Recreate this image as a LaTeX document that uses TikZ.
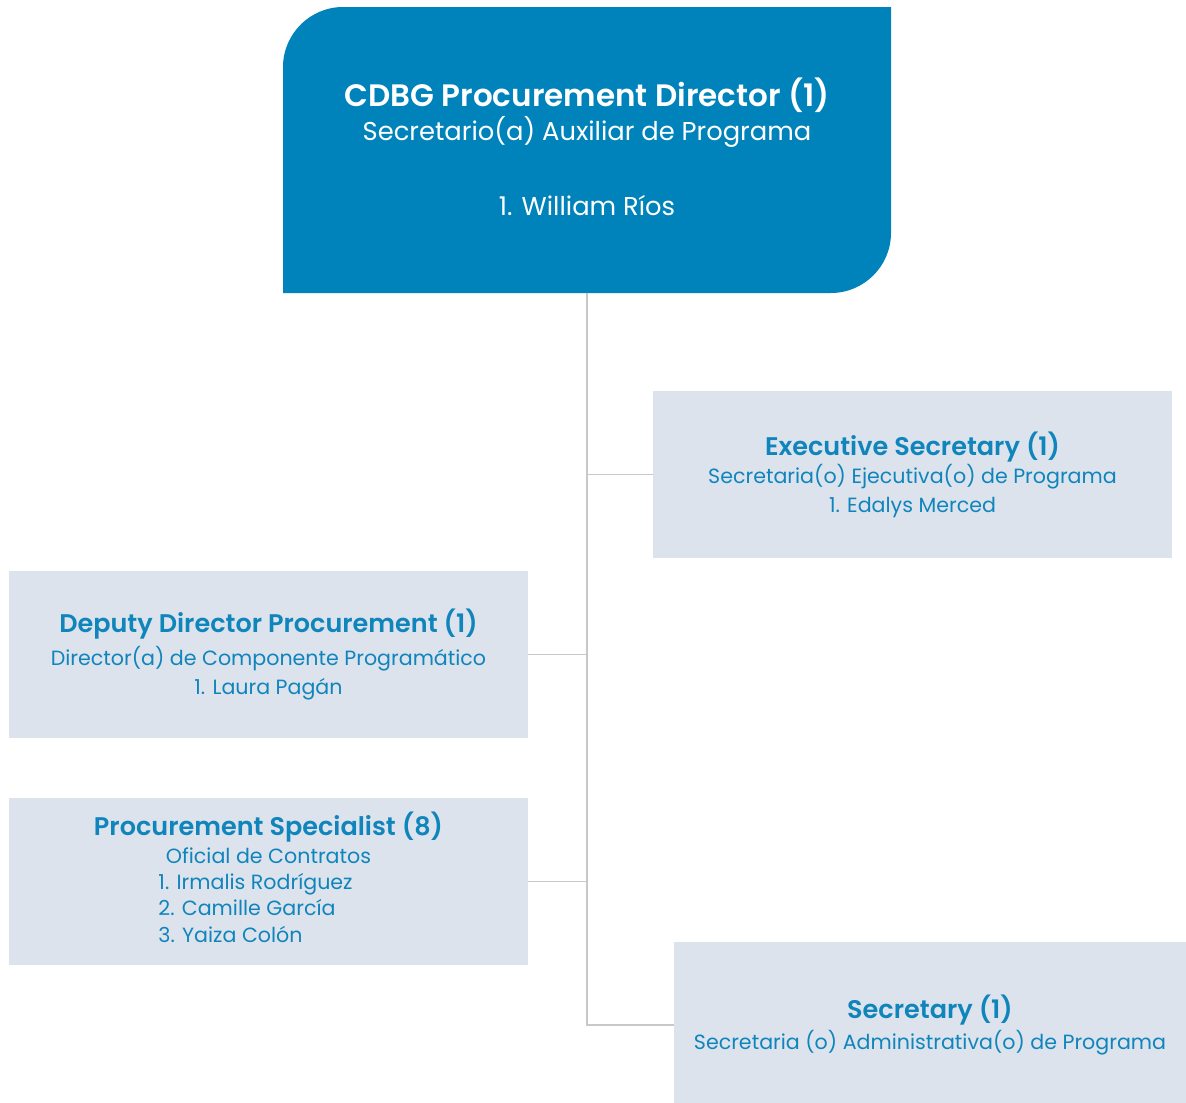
\documentclass[tikz,border=0pt]{standalone}
\usepackage{fontspec}
\setmainfont{Poppins}[BoldFont={Poppins SemiBold}]
\definecolor{topblue}{RGB}{0,131,186}
\definecolor{boxgray}{RGB}{220,227,237}
\definecolor{tblue}{RGB}{16,133,188}
\definecolor{linegray}{RGB}{200,200,200}
\begin{document}
\begin{tikzpicture}[x=1pt,y=-1pt,
  lbox/.style={fill=boxgray,minimum width=519pt,minimum height=167pt,inner sep=0pt,text=tblue,align=center},
  conn/.style={draw=linegray,line width=1.5pt}]
\useasboundingbox (0,0) rectangle (1186,1103);
% top director box
\fill[topblue] (283,293) -- (283,67) .. controls (283,34) and (310,7) .. (343,7) -- (891,7) -- (891,233) .. controls (891,266) and (864,293) .. (831,293) -- cycle;
\node[minimum width=608pt,minimum height=286pt,inner sep=0pt,text=white,align=center,
  font=\fontsize{25.8}{34}\selectfont] (dir) at (587,146.5)
  {{\fontsize{31}{34}\selectfont\bfseries CDBG Procurement Director (1)}\\
   Secretario(a) Auxiliar de Programa\\[41pt]
   1. William Ríos};
\coordinate (dirbase) at ([yshift=-3.5pt]dir.south);
% subordinate boxes
\node[lbox,font=\fontsize{20.6}{28.5}\selectfont] (exec) at (912.5,474.5)
  {{\fontsize{25.5}{28}\selectfont\bfseries Executive Secretary (1)}\\
   Secretaria(o) Ejecutiva(o) de Programa\\
   1. Edalys Merced};
\node[lbox,font=\fontsize{20.6}{29}\selectfont] (dep) at (268.5,654.5)
  {{\fontsize{25.5}{28}\selectfont\bfseries Deputy Director Procurement (1)}\\[4pt]
   Director(a) de Componente Programático\\
   1. Laura Pagán};
\node[lbox,font=\fontsize{20.6}{26}\selectfont] (spec) at (268.5,881.5)
  {{\fontsize{25.5}{28}\selectfont\bfseries Procurement Specialist (8)}\\[2pt]
   Oficial de Contratos\\
   \begin{tabular}[t]{@{}l@{\hspace{26pt}}}1. Irmalis Rodríguez\\[0pt]2. Camille García\\[1pt]3. Yaiza Colón\end{tabular}};
\node[lbox,minimum width=512pt,minimum height=166pt,font=\fontsize{20.6}{31}\selectfont] (sec) at (930,1025)
  {{\fontsize{25.5}{28}\selectfont\bfseries Secretary (1)}\\
   Secretaria (o) Administrativa(o) de Programa};
% connectors
\coordinate (trunkend) at (dirbase |- sec.west);
\draw[conn] (dirbase) -- (trunkend) -- (sec.west);
\draw[conn] (exec.west) -- (exec.west -| dirbase);
\draw[conn] (dep.east) -- (dep.east -| dirbase);
\draw[conn] (spec.east) -- (spec.east -| dirbase);
\end{tikzpicture}
\end{document}
